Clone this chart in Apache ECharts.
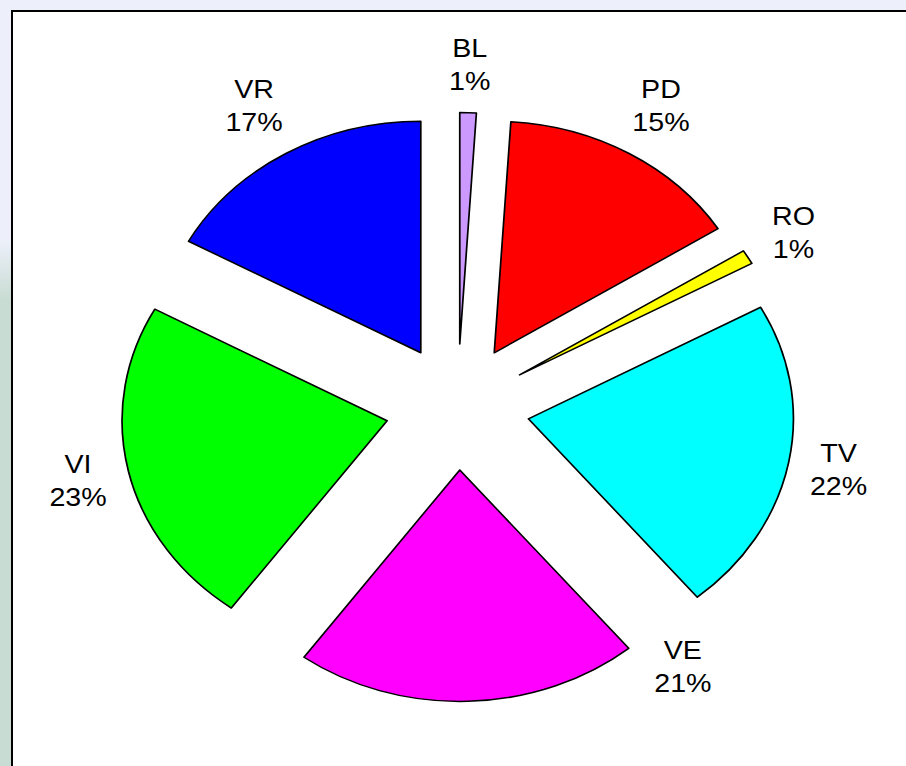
<!doctype html>
<html lang="en">
<head>
    <meta charset="UTF-8">
    <title>pie echarts</title>
    <script src="https://cdn.jsdelivr.net/npm/echarts@6/dist/echarts.min.js"></script>
    <style>
        html, body{margin:0; padding:0; width:906px; height:766px; overflow:hidden;}
        body{background: linear-gradient(to bottom, #edf0fa 0, #edf0fa 240px, #c9dcd3 300px, #c9dcd3 100%);}
        .frame{position:absolute; left:11px; top:10px; width:920px; height:780px; background:#fff;
               border-left:2px solid #000; border-top:2px solid #000;}
        /* the original picture is stretched sideways, text included */
        #pie{position:absolute; left:0; top:0; width:906px; height:766px;
             transform:scaleX(1.145); transform-origin:457.5px 0;}
    </style>
</head>
<body>
<div class="frame"></div>
<div id="pie"></div>
<script>
    var names = ['BL', 'PD', 'RO', 'TV', 'VE', 'VI', 'VR'];
    var values = [1, 15, 1, 22, 21, 23, 17];
    var colors = ['#cc99ff', '#ff0000', '#ffff00', '#00ffff', '#ff00ff', '#00ff00', '#0000ff'];

    var center = [457.5, 407];
    var chart = echarts.init(document.getElementById('pie'), null, {renderer: 'svg'});

    // push each label out so its box just clears a ring (like "outside end")
    function placeLabel(p) {
        if (names[p.dataIndex] === 'VE') return {dx: 186, dy: -85}; // moved by hand in the original
        var r = p.labelRect;
        var ux = r.x + r.width / 2 - center[0];
        var uy = r.y + r.height / 2 - center[1];
        var d = Math.sqrt(ux * ux + uy * uy);
        ux /= d; uy /= d;
        var want = 308 + r.width / 2 * Math.abs(ux) + r.height / 2 * Math.abs(uy);
        return {dx: (want - d) * ux, dy: (want - d) * uy};
    }

    chart.setOption({
        animation: false,
        series: [
            {
                name: 'slices',
                type: 'pie',
                center: center,
                radius: 231.5,
                startAngle: 90,
                selectedMode: 'multiple',
                selectedOffset: 63,
                silent: true,
                label: {show: false},
                labelLine: {show: false},
                emphasis: {disabled: true},
                select: {itemStyle: {borderColor: '#000', borderWidth: 1.5}},
                data: names.map(function (n, i) {
                    return {
                        name: n, value: values[i], selected: true,
                        itemStyle: {color: colors[i], borderColor: '#000', borderWidth: 1.5}
                    };
                })
            },
            {
                // invisible ring, only carries the labels
                name: 'labels',
                type: 'pie',
                center: center,
                radius: [332, 352],
                startAngle: 90,
                silent: true,
                emphasis: {disabled: true},
                itemStyle: {color: 'rgba(0,0,0,0)', borderWidth: 0},
                label: {
                    show: true,
                    position: 'inside',
                    formatter: '{b}\n{d}%',
                    color: '#000',
                    fontSize: 25,
                    lineHeight: 33,
                    fontFamily: '"Liberation Sans", Arial, sans-serif'
                },
                labelLine: {show: false},
                labelLayout: placeLabel,
                data: names.map(function (n, i) {
                    return {name: n, value: values[i]};
                })
            }
        ]
    });
</script>
</body>
</html>
